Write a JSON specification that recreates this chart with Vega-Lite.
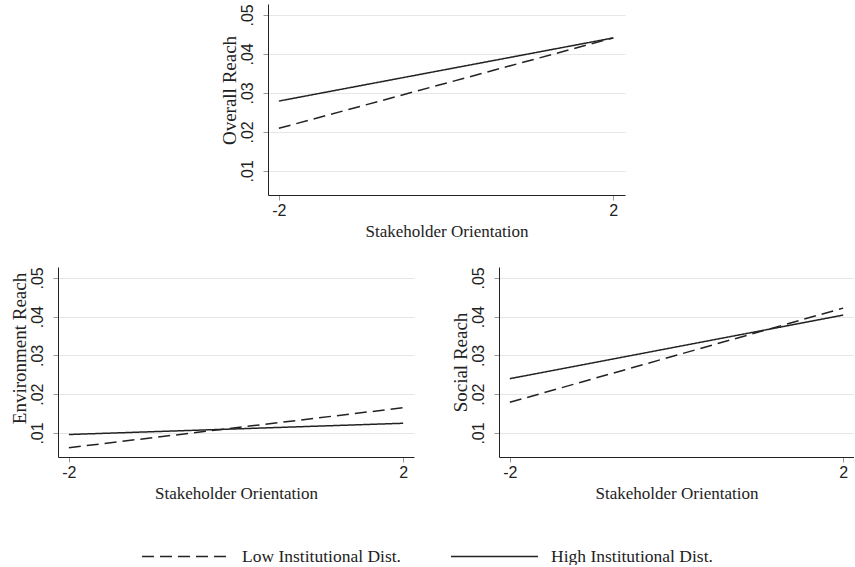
{
  "$schema": "https://vega.github.io/schema/vega-lite/v6.json",
  "background": "white",
  "padding": {"left": 9, "top": 3, "right": 0, "bottom": 0},
  "data": {"values": [
    {"panel": "overall", "x": -2, "group": "Low Institutional Dist.", "y": 0.0209},
    {"panel": "overall", "x": 2, "group": "Low Institutional Dist.", "y": 0.0441},
    {"panel": "overall", "x": -2, "group": "High Institutional Dist.", "y": 0.0279},
    {"panel": "overall", "x": 2, "group": "High Institutional Dist.", "y": 0.0441},
    {"panel": "env", "x": -2, "group": "Low Institutional Dist.", "y": 0.0062},
    {"panel": "env", "x": 2, "group": "Low Institutional Dist.", "y": 0.0165},
    {"panel": "env", "x": -2, "group": "High Institutional Dist.", "y": 0.0096},
    {"panel": "env", "x": 2, "group": "High Institutional Dist.", "y": 0.0125},
    {"panel": "social", "x": -2, "group": "Low Institutional Dist.", "y": 0.0179},
    {"panel": "social", "x": 2, "group": "Low Institutional Dist.", "y": 0.0422},
    {"panel": "social", "x": -2, "group": "High Institutional Dist.", "y": 0.0240},
    {"panel": "social", "x": 2, "group": "High Institutional Dist.", "y": 0.0404}
  ]},
  "config": {
    "view": {"stroke": null},
    "axis": {
      "domainColor": "#222222",
      "tickColor": "#999999",
      "tickSize": 5,
      "labelFont": "Liberation Sans",
      "labelFontSize": 16,
      "labelColor": "#222222",
      "titleFont": "Liberation Serif",
      "titleFontWeight": "normal",
      "titleColor": "#222222",
      "gridColor": "#e6e6e6",
      "gridWidth": 1.2
    },
    "axisX": {"grid": false, "labelPadding": 2, "titlePadding": 5, "titleFontSize": 17, "labelExpr": "replace(datum.label, '\u2212', '-')"},
    "axisY": {"labelAngle": -90, "labelPadding": 8, "titlePadding": 0, "titleFontSize": 19, "labelExpr": "substring(format(datum.value, '.2f'), 1)"},
    "legend": {
      "orient": "none",
      "legendX": 83,
      "legendY": 508,
      "padding": 0,
      "direction": "horizontal",
      "symbolType": "stroke",
      "symbolSize": 7569,
      "symbolStrokeWidth": 1.5,
      "symbolStrokeColor": "#222222",
      "labelFont": "Liberation Serif",
      "labelFontSize": 17.5,
      "labelColor": "#222222",
      "labelLimit": 400,
      "labelOffset": 12,
      "columnPadding": 47
    }
  },
  "spacing": 27,
  "resolve": {"legend": {"strokeDash": "shared"}},
  "vconcat": [
    {
      "spacing": 11,
      "hconcat": [
        {
          "width": 151,
          "height": 10,
          "data": {"values": []},
          "mark": "point",
          "encoding": {}
        },
        {
          "width": 357,
          "height": 191,
          "transform": [{"filter": "datum.panel === 'overall'"}],
          "mark": {"type": "line", "color": "#222222", "strokeWidth": 1.5},
          "encoding": {
            "x": {"field": "x", "type": "quantitative", "scale": {"domain": [-2.13, 2.14], "nice": false, "zero": false}, "axis": {"values": [-2, 2], "title": "Stakeholder Orientation"}},
            "y": {"field": "y", "type": "quantitative", "scale": {"domain": [0.0038, 0.0528], "nice": false, "zero": false}, "axis": {"values": [0.01, 0.02, 0.03, 0.04, 0.05], "title": "Overall Reach", "titleY": 86}},
            "strokeDash": {"field": "group", "type": "nominal", "scale": {"domain": ["Low Institutional Dist.", "High Institutional Dist."], "range": [[12, 6], [1, 0]]}, "legend": {"title": null}}
          }
        }
      ]
    },
    {
      "hconcat": [
        {
          "width": 356,
          "height": 190,
          "transform": [{"filter": "datum.panel === 'env'"}],
          "mark": {"type": "line", "color": "#222222", "strokeWidth": 1.5},
          "encoding": {
            "x": {"field": "x", "type": "quantitative", "scale": {"domain": [-2.13, 2.13], "nice": false, "zero": false}, "axis": {"values": [-2, 2], "title": "Stakeholder Orientation"}},
            "y": {"field": "y", "type": "quantitative", "scale": {"domain": [0.0038, 0.0528], "nice": false, "zero": false}, "axis": {"values": [0.01, 0.02, 0.03, 0.04, 0.05], "title": "Environment Reach", "titleY": 81}},
            "strokeDash": {"field": "group", "type": "nominal", "scale": {"domain": ["Low Institutional Dist.", "High Institutional Dist."], "range": [[12, 6], [1, 0]]}, "legend": {"title": null}}
          }
        },
        {
          "width": 355,
          "height": 190,
          "transform": [{"filter": "datum.panel === 'social'"}],
          "mark": {"type": "line", "color": "#222222", "strokeWidth": 1.5},
          "encoding": {
            "x": {"field": "x", "type": "quantitative", "scale": {"domain": [-2.13, 2.13], "nice": false, "zero": false}, "axis": {"values": [-2, 2], "title": "Stakeholder Orientation"}},
            "y": {"field": "y", "type": "quantitative", "scale": {"domain": [0.0038, 0.0528], "nice": false, "zero": false}, "axis": {"values": [0.01, 0.02, 0.03, 0.04, 0.05], "title": "Social Reach"}},
            "strokeDash": {"field": "group", "type": "nominal", "scale": {"domain": ["Low Institutional Dist.", "High Institutional Dist."], "range": [[12, 6], [1, 0]]}, "legend": {"title": null}}
          }
        }
      ],
      "spacing": 36
    }
  ]
}
